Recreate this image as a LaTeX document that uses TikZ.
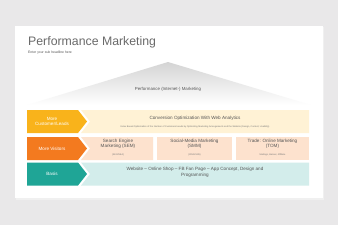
\documentclass[tikz,border=0pt]{standalone}
\usepackage{fontspec}
\setmainfont{Liberation Sans}
\usetikzlibrary{shadows}
\definecolor{bgc}{HTML}{E9E8E9}
\definecolor{ttl}{HTML}{6A6A6A}
\definecolor{txt}{HTML}{555555}
\definecolor{ylw}{HTML}{F9B31B}
\definecolor{ylwl}{HTML}{FFF2D5}
\definecolor{org}{HTML}{F37A1F}
\definecolor{orgl}{HTML}{FDE2CE}
\definecolor{tel}{HTML}{1FA596}
\definecolor{tell}{HTML}{D3EDEB}
\tikzset{
  arrowtxt/.style={text=white,font=\fontsize{4.6}{5.6}\selectfont,align=center,inner sep=0},
  boxtxt/.style={text=txt,font=\fontsize{4.6}{5.6}\selectfont,align=center,inner sep=0},
  smalltxt/.style={text=txt!80,font=\fontsize{2.3}{2.8}\selectfont,align=center,inner sep=0}
}
\begin{document}
\begin{tikzpicture}[x=1pt,y=-1pt]
\useasboundingbox (0,0) rectangle (338,225);
\fill[bgc] (0,0) rectangle (338,225);
\fill[black!6] (15.5,27) rectangle (324,200);
\fill[white] (15,26) rectangle (323,198);
\node[anchor=base west,text=ttl,font=\fontsize{12.3}{14}\selectfont,inner sep=0] (title) at (28,45.5) {Performance Marketing};
\node[anchor=base west,text=txt,font=\fontsize{3.4}{4}\selectfont,inner sep=0] (sub) at (28,53) {Enter your sub headline here};
% roof
\shade[top color=black!17,bottom color=white] (168,62) -- (311,105) -- (27,105) -- cycle;
\node[text=txt,font=\fontsize{4.4}{5}\selectfont,inner sep=0] (roof) at (168,89) {Performance (Internet-) Marketing};
% row 1
\fill[ylw] (27,110) -- (78,110) -- (87,121.5) -- (78,133) -- (27,133) -- cycle;
\fill[ylwl] (81,110) -- (309,110) -- (309,133) -- (81,133) -- (90,121.5) -- cycle;
\node[arrowtxt] (a1) at (52,121.5) {More\\Customer/Leads};
\node[boxtxt] (b1) at (195,118.5) {Conversion Optimization With Web Analytics};
\node[smalltxt] (s1) at (195,127) {Index Based Optimization of the Number of Customers/Leads by Optimizing Marketing Arrangements and the Website (Design, Content, Usability)};
% row 2
\fill[org] (27,137) -- (78,137) -- (87,148.5) -- (78,160) -- (27,160) -- cycle;
\fill[orgl] (81,137) -- (153,137) -- (153,160) -- (81,160) -- (90,148.5) -- cycle;
\fill[orgl] (157,137) rectangle (232,160);
\fill[orgl] (236,137) rectangle (309,160);
\node[arrowtxt] (a2) at (52,148.5) {More Visitors};
\node[boxtxt] (b21) at (118,143.8) {Search Engine\\Marketing (SEM)};
\node[smalltxt] (s21) at (118,154.5) {(SEO/SEA)};
\node[boxtxt] (b22) at (194.5,143.8) {Social-Media Marketing\\(SMM)};
\node[smalltxt] (s22) at (194.5,154.5) {(XING/SNS)};
\node[boxtxt] (b23) at (272.5,143.8) {Trade: Online Marketing\\(TOM)};
\node[smalltxt] (s23) at (272.5,154.5) {Mailings, Banner, Affiliate};
% row 3
\fill[tel] (27,162.5) -- (78,162.5) -- (87,174) -- (78,185.5) -- (27,185.5) -- cycle;
\fill[tell] (81,162.5) -- (309,162.5) -- (309,185.5) -- (81,185.5) -- (90,174) -- cycle;
\node[arrowtxt] (a3) at (52,174) {Basis};
\node[boxtxt] (b3) at (195,172.5) {Website – Online Shop – FB Fan Page – App Concept, Design and\\Programming};
\end{tikzpicture}
\end{document}
